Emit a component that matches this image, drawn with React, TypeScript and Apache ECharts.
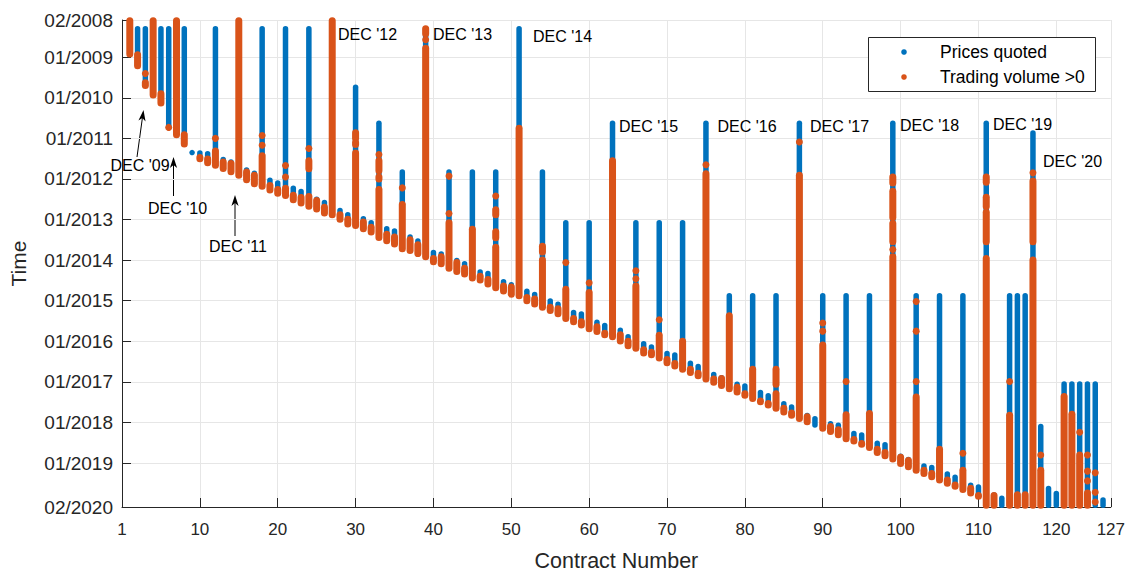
import React, { useEffect, useRef } from "react";
import * as echarts from "echarts";

// ---------- data (years as decimals; contract number = index + 1) ----------
const quoteStart = [
  2008.1, 2008.3, 2008.3, 2008.1, 2008.3, 2008.3, 2008.1, 2008.3, 2011.35, 2011.36,
  2011.38, 2008.3, 2011.52, 2011.58, 2008.1, 2011.78, 2011.86, 2008.3, 2012.03, 2012.1,
  2008.3, 2012.23, 2012.31, 2008.3, 2012.5, 2012.58, 2008.1, 2012.78, 2012.88, 2009.74,
  2012.98, 2013.08, 2010.63, 2013.23, 2013.28, 2011.83, 2013.43, 2013.53, 2008.3, 2013.81,
  2013.85, 2011.83, 2014.01, 2014.09, 2011.83, 2014.29, 2014.33, 2011.83, 2014.53, 2014.61,
  2008.3, 2014.77, 2014.85, 2011.83, 2015.01, 2015.09, 2013.08, 2015.29, 2015.33, 2013.08,
  2015.53, 2015.61, 2010.63, 2015.73, 2015.89, 2013.08, 2016.06, 2016.14, 2013.08, 2016.3,
  2016.34, 2013.08, 2016.54, 2016.62, 2010.63, 2016.82, 2016.9, 2014.88, 2017.06, 2017.1,
  2014.88, 2017.26, 2017.34, 2014.88, 2017.54, 2017.62, 2010.63, 2017.83, 2017.91, 2014.88,
  2018.03, 2018.07, 2014.88, 2018.27, 2018.31, 2014.88, 2018.51, 2018.55, 2010.63, 2018.83,
  2018.91, 2014.88, 2019.07, 2019.11, 2014.88, 2019.27, 2019.35, 2014.88, 2019.55, 2019.59,
  2010.63, 2019.79, 2019.87, 2014.88, 2014.88, 2014.88, 2010.87, 2018.1, 2019.63, 2019.75,
  2017.05, 2017.05, 2017.05, 2017.05, 2017.05, 2019.91,
];

const expiry = [
  2008.92, 2009.21, 2009.7, 2009.93, 2010.13, 2010.73, 2010.91, 2011.14, 2011.35, 2011.5,
  2011.6, 2011.66, 2011.74, 2011.82, 2011.91, 2012.02, 2012.12, 2012.18, 2012.27, 2012.35,
  2012.41, 2012.51, 2012.59, 2012.67, 2012.74, 2012.84, 2012.88, 2012.99, 2013.11, 2013.15,
  2013.23, 2013.31, 2013.44, 2013.52, 2013.6, 2013.72, 2013.76, 2013.84, 2013.92, 2014.04,
  2014.09, 2014.2, 2014.28, 2014.34, 2014.44, 2014.49, 2014.59, 2014.68, 2014.76, 2014.84,
  2014.88, 2015.0, 2015.08, 2015.16, 2015.24, 2015.32, 2015.44, 2015.52, 2015.6, 2015.69,
  2015.76, 2015.84, 2015.89, 2015.99, 2016.11, 2016.17, 2016.29, 2016.33, 2016.41, 2016.53,
  2016.61, 2016.69, 2016.77, 2016.85, 2016.93, 2017.01, 2017.09, 2017.17, 2017.25, 2017.33,
  2017.41, 2017.49, 2017.57, 2017.65, 2017.74, 2017.82, 2017.9, 2017.98, 2018.06, 2018.14,
  2018.22, 2018.3, 2018.4, 2018.46, 2018.54, 2018.62, 2018.74, 2018.82, 2018.9, 2019.01,
  2019.09, 2019.18, 2019.26, 2019.34, 2019.42, 2019.5, 2019.57, 2019.65, 2019.74, 2019.82,
  2020.04, 2020.04, 2020.04, 2020.04, 2020.04, 2020.04, 2020.04, 2020.04, 2020.04, 2020.04,
  2020.04, 2020.04, 2020.04, 2020.04, 2020.04, 2020.04,
];

// [contract, from, to] stretches with trading volume > 0
const tradingSegments: [number, number, number][] = [
  [1, 2008.1, 2008.92], [2, 2008.94, 2009.21], [3, 2009.4, 2009.4], [3, 2009.63, 2009.7],
  [4, 2008.1, 2009.93], [5, 2009.9, 2010.13], [6, 2010.73, 2010.73], [7, 2008.1, 2010.91],
  [8, 2010.91, 2011.14], [10, 2011.47, 2011.5], [11, 2011.51, 2011.6], [12, 2011.0, 2011.0],
  [12, 2011.31, 2011.66], [13, 2011.58, 2011.74], [14, 2011.62, 2011.82], [15, 2008.1, 2011.91],
  [16, 2011.83, 2012.02], [17, 2011.91, 2012.12], [18, 2010.93, 2010.93], [18, 2011.17, 2011.17],
  [18, 2011.43, 2012.18], [19, 2012.16, 2012.27], [20, 2012.26, 2012.35], [21, 2011.67, 2011.67],
  [21, 2011.95, 2011.95], [21, 2012.23, 2012.41], [22, 2012.4, 2012.51], [23, 2012.46, 2012.59],
  [24, 2011.25, 2011.25], [24, 2011.55, 2011.75], [24, 2012.43, 2012.67], [25, 2012.53, 2012.74],
  [26, 2012.7, 2012.84], [27, 2008.1, 2012.88], [28, 2012.88, 2012.99], [29, 2012.99, 2013.11],
  [30, 2010.86, 2011.0], [30, 2011.1, 2011.15], [30, 2011.36, 2013.15], [31, 2013.06, 2013.23],
  [32, 2013.19, 2013.31], [33, 2011.4, 2011.4], [33, 2011.55, 2011.8], [33, 2011.95, 2012.0],
  [33, 2012.26, 2013.44], [34, 2013.36, 2013.52], [35, 2013.43, 2013.6], [36, 2012.22, 2012.22],
  [36, 2012.63, 2013.72], [37, 2013.5, 2013.76], [38, 2013.62, 2013.84], [39, 2008.3, 2008.42],
  [39, 2008.57, 2008.57], [39, 2008.78, 2013.92], [40, 2013.96, 2014.04], [41, 2013.92, 2014.09],
  [42, 2011.93, 2011.93], [42, 2012.85, 2012.85], [42, 2013.08, 2014.2], [43, 2014.06, 2014.28],
  [44, 2014.2, 2014.34], [45, 2013.24, 2014.44], [46, 2014.4, 2014.49], [47, 2014.48, 2014.59],
  [48, 2012.42, 2012.42], [48, 2012.76, 2012.88], [48, 2013.3, 2013.45], [48, 2013.68, 2014.68],
  [49, 2014.64, 2014.76], [50, 2014.66, 2014.84], [51, 2010.75, 2014.88], [52, 2014.92, 2015.0],
  [53, 2014.96, 2015.08], [54, 2013.66, 2013.8], [54, 2014.0, 2015.16], [55, 2015.16, 2015.24],
  [56, 2015.2, 2015.32], [57, 2014.06, 2014.06], [57, 2014.72, 2015.44], [58, 2015.44, 2015.52],
  [59, 2015.52, 2015.6], [60, 2014.56, 2014.56], [60, 2014.8, 2015.69], [61, 2015.64, 2015.76],
  [62, 2015.8, 2015.84], [63, 2011.55, 2015.89], [64, 2015.84, 2015.99], [65, 2016.0, 2016.11],
  [66, 2014.26, 2014.26], [66, 2014.46, 2014.46], [66, 2014.64, 2016.17], [67, 2016.21, 2016.29],
  [68, 2016.27, 2016.33], [69, 2015.47, 2015.47], [69, 2015.85, 2016.41], [70, 2016.45, 2016.53],
  [71, 2016.55, 2016.61], [72, 2016.0, 2016.69], [73, 2016.69, 2016.77], [74, 2016.79, 2016.85],
  [75, 2011.65, 2011.65], [75, 2011.87, 2016.93], [76, 2016.93, 2017.01], [77, 2016.92, 2017.09],
  [78, 2015.37, 2017.17], [79, 2017.13, 2017.25], [80, 2017.29, 2017.33], [81, 2016.69, 2017.41],
  [82, 2017.47, 2017.49], [83, 2017.53, 2017.57], [84, 2016.69, 2017.06], [84, 2017.29, 2017.65],
  [85, 2017.65, 2017.74], [86, 2017.77, 2017.82], [87, 2011.09, 2011.09], [87, 2011.91, 2017.9],
  [88, 2017.86, 2017.98], [90, 2015.55, 2015.55], [90, 2015.75, 2015.75], [90, 2016.09, 2018.14],
  [91, 2018.1, 2018.22], [92, 2018.18, 2018.3], [93, 2016.99, 2016.99], [93, 2017.81, 2018.4],
  [94, 2018.42, 2018.46], [95, 2018.52, 2018.54], [96, 2017.78, 2018.62], [97, 2018.66, 2018.74],
  [98, 2018.74, 2018.82], [99, 2011.95, 2012.1], [99, 2012.3, 2012.95], [99, 2013.1, 2013.55],
  [99, 2013.74, 2013.74], [99, 2013.92, 2018.9], [100, 2018.86, 2019.01], [101, 2018.94, 2019.09],
  [102, 2015.02, 2015.02], [102, 2015.75, 2015.75], [102, 2016.99, 2016.99], [102, 2017.37, 2019.18],
  [103, 2019.18, 2019.26], [104, 2019.26, 2019.34], [105, 2018.66, 2019.42], [106, 2019.42, 2019.5],
  [107, 2019.54, 2019.57], [108, 2018.76, 2018.76], [108, 2019.18, 2019.65], [109, 2019.62, 2019.74],
  [110, 2019.8, 2019.82], [111, 2011.95, 2012.08], [111, 2012.45, 2012.68], [111, 2012.82, 2013.55],
  [111, 2013.96, 2020.04], [112, 2019.8, 2020.04], [114, 2016.99, 2016.99], [114, 2017.82, 2020.04],
  [115, 2019.78, 2020.04], [116, 2019.78, 2020.04], [117, 2011.85, 2011.85], [117, 2012.05, 2013.55],
  [117, 2014.0, 2020.04], [118, 2018.8, 2018.8], [118, 2019.18, 2020.04], [121, 2017.36, 2020.04],
  [122, 2017.8, 2020.04], [123, 2018.24, 2018.24], [123, 2018.8, 2020.04], [124, 2018.8, 2018.8],
  [124, 2019.2, 2019.2], [124, 2019.44, 2019.44], [124, 2019.74, 2020.04], [125, 2019.24, 2019.24],
  [125, 2019.72, 2019.72], [125, 2019.96, 2019.96],
];

const xTickValues = [0, 10, 20, 30, 40, 50, 60, 70, 80, 90, 100, 110, 120, 127];
const xTickLabels = ["1", "10", "20", "30", "40", "50", "60", "70", "80", "90", "100", "110", "120", "127"];
const yTickValues = [2008 + 1 / 12, 2009, 2010, 2011, 2012, 2013, 2014, 2015, 2016, 2017, 2018, 2019, 2020 + 1 / 12];
const yTickLabels = ["02/2008", "01/2009", "01/2010", "01/2011", "01/2012", "01/2013", "01/2014",
  "01/2015", "01/2016", "01/2017", "01/2018", "01/2019", "02/2020"];

const seriesNames = ["Prices quoted", "Trading volume >0"];
const annotationLabels = ["DEC '09", "DEC '10", "DEC '11", "DEC '12", "DEC '13", "DEC '14",
  "DEC '15", "DEC '16", "DEC '17", "DEC '18", "DEC '19", "DEC '20"];

// ---------- layout ----------
const FONT = "'Liberation Sans', Arial, Helvetica, sans-serif";
const BLUE = "#0072BD";
const ORANGE = "#D95319";
const AXIS = "#262626";

// [x, y, align] for each annotation label (pixel layout)
const annotationPos: [number, number, string][] = [
  [140, 165, "center"], [177.5, 208, "center"], [238, 246.5, "center"],
  [338, 34.5, "left"], [433, 34.5, "left"], [533, 36, "left"],
  [619, 126, "left"], [717.5, 126, "left"], [810, 126, "left"],
  [900, 125.5, "left"], [993, 124, "left"], [1043, 161, "left"],
];
// arrows: [tailX, tailY, headX, headY]
const arrowPos: [number, number, number, number][] = [
  [137, 157, 143.5, 110],
  [173.5, 196, 173.5, 157],
  [235, 236, 235, 195],
];
// legend box layout
const LEG = { x: 868, y: 37, w: 227, h: 54, dotX: 904, textX: 940, rowY: [52, 77] };

function lookup(values: number[], labels: string[], v: number) {
  for (let i = 0; i < values.length; i++) if (Math.abs(values[i] - v) < 1e-6) return labels[i];
  return "";
}

function makeRenderer(width: number) {
  return (params: any, api: any) => {
    const x = api.value(0);
    const p1 = api.coord([x, api.value(1)]);
    const p2 = api.coord([x, api.value(2)]);
    const color = api.visual("color");
    if (Math.abs(p2[1] - p1[1]) < 0.5) {
      return { type: "circle", shape: { cx: p1[0], cy: p1[1], r: width / 2 }, style: { fill: color } };
    }
    return {
      type: "line",
      shape: { x1: p1[0], y1: p1[1], x2: p2[0], y2: p2[1] },
      style: { stroke: color, lineWidth: width, lineCap: "round" },
    };
  };
}

function arrowElements(a: [number, number, number, number]) {
  const [tx, ty, hx, hy] = a;
  const len = Math.hypot(hx - tx, hy - ty);
  const dx = (hx - tx) / len, dy = (hy - ty) / len;
  const nx = -dy, ny = dx;
  const L = 11, W = 3.6, N = 8;
  return [
    {
      type: "line", silent: true,
      shape: { x1: tx, y1: ty, x2: hx - dx * N, y2: hy - dy * N },
      style: { stroke: "#000", lineWidth: 1 },
    },
    {
      type: "polygon", silent: true,
      shape: {
        points: [
          [hx, hy],
          [hx - dx * L + nx * W, hy - dy * L + ny * W],
          [hx - dx * N, hy - dy * N],
          [hx - dx * L - nx * W, hy - dy * L - ny * W],
        ],
      },
      style: { fill: "#000" },
    },
  ];
}

export default function App() {
  const ref = useRef<HTMLDivElement>(null);
  useEffect(() => {
    if (!ref.current) return;
    const chart = echarts.init(ref.current, null, { renderer: "svg" });

    const blueData = quoteStart.map((s, i) => [i + 1, s, expiry[i]]);
    const orangeData = tradingSegments.map((d) => [d[0], d[1], d[2]]);

    const graphics: any[] = [];
    annotationLabels.forEach((t, i) => {
      const [x, y, align] = annotationPos[i];
      graphics.push({
        type: "text", silent: true, x, y, z: 100,
        style: {
          text: t, fill: "#000", fontSize: 16, fontFamily: FONT,
          textAlign: align, align, textVerticalAlign: "middle", verticalAlign: "middle",
        },
      });
    });
    arrowPos.forEach((a) => graphics.push(...arrowElements(a)));

    // legend box
    graphics.push({
      type: "rect", silent: true, z: 100,
      shape: { x: LEG.x + 0.5, y: LEG.y + 0.5, width: LEG.w, height: LEG.h },
      style: { fill: "#fff", stroke: AXIS, lineWidth: 1 },
    });
    [BLUE, ORANGE].forEach((c, i) => {
      graphics.push({
        type: "circle", silent: true, z: 101,
        shape: { cx: LEG.dotX, cy: LEG.rowY[i], r: 2.8 },
        style: { fill: c },
      });
      graphics.push({
        type: "text", silent: true, z: 101, x: LEG.textX, y: LEG.rowY[i],
        style: {
          text: seriesNames[i], fill: "#000", fontSize: 17.5, fontFamily: FONT,
          textAlign: "left", align: "left", textVerticalAlign: "middle", verticalAlign: "middle",
        },
      });
    });

    chart.setOption({
      animation: false,
      backgroundColor: "#fff",
      textStyle: { fontFamily: FONT },
      grid: { left: 118, right: 16.5, top: 20, bottom: 59, containLabel: false },
      xAxis: {
        type: "value",
        min: 0,
        max: 127,
        name: "Contract Number",
        nameLocation: "middle",
        nameGap: 43,
        nameTextStyle: { fontSize: 21.5, color: AXIS, fontFamily: FONT },
        axisLine: { show: true, onZero: false, lineStyle: { color: AXIS, width: 1 } },
        axisTick: { show: true, inside: true, length: 9, customValues: xTickValues, lineStyle: { color: AXIS } },
        axisLabel: {
          customValues: xTickValues,
          formatter: (v: number) => lookup(xTickValues, xTickLabels, v),
          fontSize: 17, color: AXIS, fontFamily: FONT, margin: 14,
        },
        splitLine: { show: true, lineStyle: { color: "#e6e6e6", width: 1 } },
      },
      yAxis: {
        type: "value",
        inverse: true,
        min: yTickValues[0],
        max: yTickValues[yTickValues.length - 1],
        name: "Time",
        nameLocation: "middle",
        nameGap: 93,
        nameRotate: 90,
        nameTextStyle: { fontSize: 21, color: AXIS, fontFamily: FONT },
        axisLine: { show: true, onZero: false, lineStyle: { color: AXIS, width: 1 } },
        axisTick: { show: true, inside: true, length: 9, customValues: yTickValues, lineStyle: { color: AXIS } },
        axisLabel: {
          customValues: yTickValues,
          formatter: (v: number) => lookup(yTickValues, yTickLabels, v),
          fontSize: 19, color: AXIS, fontFamily: FONT, margin: 9,
        },
        splitLine: { show: true, lineStyle: { color: "#e6e6e6", width: 1 } },
      },
      series: [
        {
          name: seriesNames[0],
          type: "custom",
          color: BLUE,
          itemStyle: { color: BLUE },
          renderItem: makeRenderer(5.5),
          encode: { x: 0, y: [1, 2] },
          data: blueData,
          clip: false,
          silent: true,
          z: 2,
        },
        {
          name: seriesNames[1],
          type: "custom",
          color: ORANGE,
          itemStyle: { color: ORANGE },
          renderItem: makeRenderer(7),
          encode: { x: 0, y: [1, 2] },
          data: orangeData,
          clip: false,
          silent: true,
          z: 3,
        },
      ],
      graphic: graphics,
    });
    return () => chart.dispose();
  }, []);
  return (
    <div
      ref={ref}
      style={{ position: "fixed", left: 0, top: 0, width: 1128, height: 577, background: "#fff" }}
    />
  );
}
